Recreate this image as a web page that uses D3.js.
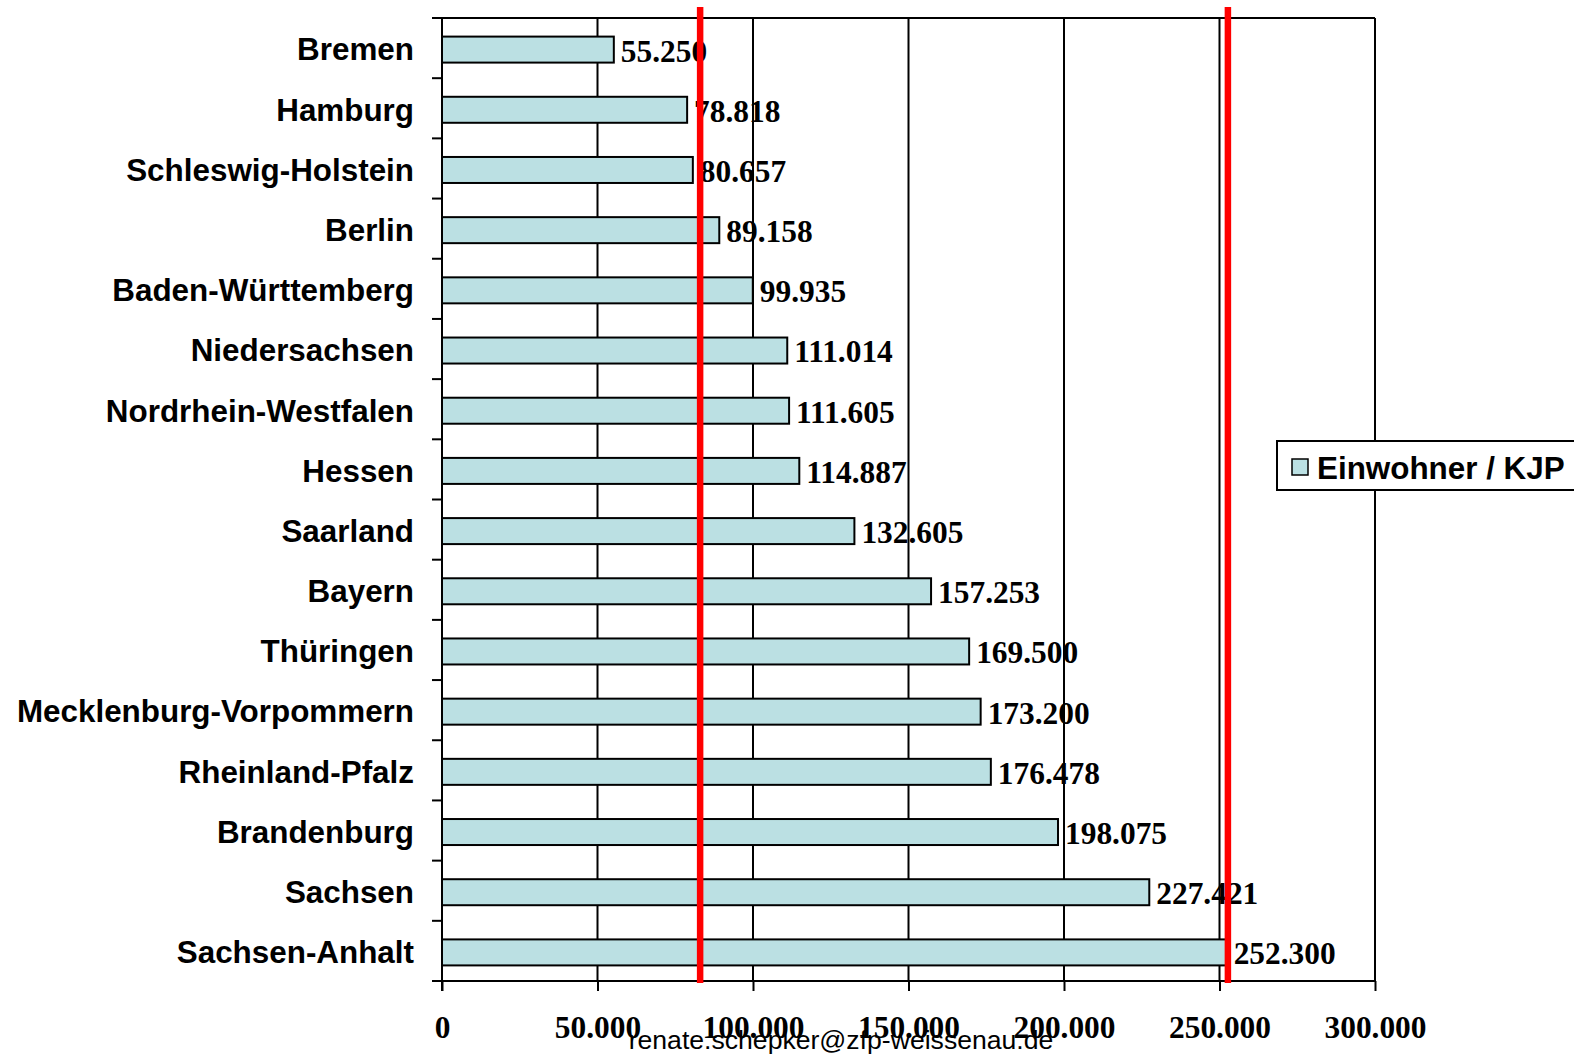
<!DOCTYPE html>
<html>
<head>
<meta charset="utf-8">
<script src="https://cdnjs.cloudflare.com/ajax/libs/d3/7.8.5/d3.min.js"></script>
<style>
  html, body { margin: 0; padding: 0; background: #fff; }
  svg { display: block; }
</style>
</head>
<body>
<svg id="chart" width="1574" height="1054"></svg>
<script>
// Einwohner pro Kinder- und Jugendpsychiatrie-Klinik, nach Bundesland
const categories = [
  "Bremen", "Hamburg", "Schleswig-Holstein", "Berlin", "Baden-Württemberg",
  "Niedersachsen", "Nordrhein-Westfalen", "Hessen", "Saarland", "Bayern",
  "Thüringen", "Mecklenburg-Vorpommern", "Rheinland-Pfalz", "Brandenburg",
  "Sachsen", "Sachsen-Anhalt"
];
const values = [
  55250, 78818, 80657, 89158, 99935, 111014, 111605, 114887,
  132605, 157253, 169500, 173200, 176478, 198075, 227421, 252300
];
const xTicks = [0, 50000, 100000, 150000, 200000, 250000, 300000];
const refLines = [83000, 252700];
const seriesName = "Einwohner / KJP";
const footer = "renate.schepker@zfp-weissenau.de";

const de = d3.formatLocale({ decimal: ",", thousands: ".", grouping: [3], currency: ["", " €"] });
const fmt = de.format(",d");

const svg = d3.select("#chart");
const plotLeft = 442, plotRight = 1375, plotTop = 18, plotBottom = 981;

const x = d3.scaleLinear().domain([0, 300000]).range([plotLeft, plotRight]);
const y = d3.scaleBand().domain(categories).range([plotTop, plotBottom]).paddingInner(0).paddingOuter(0);
const barH = 26;
const barShift = 1.5;

const serif = "'Liberation Serif', 'Times New Roman', serif";
const sans = "'Liberation Sans', Arial, sans-serif";
const bigFont = 31.4;

// vertical gridlines
svg.append("g").selectAll("line").data(xTicks).join("line")
  .attr("x1", d => x(d)).attr("x2", d => x(d))
  .attr("y1", plotTop).attr("y2", plotBottom)
  .attr("stroke", "#000").attr("stroke-width", 2);

// frame top
svg.append("line").attr("x1", plotLeft).attr("x2", plotRight).attr("y1", plotTop).attr("y2", plotTop)
  .attr("stroke", "#000").attr("stroke-width", 2);

// bottom axis
const xAxis = d3.axisBottom(x).tickValues(xTicks).tickSize(10).tickFormat(d => fmt(d));
const gx = svg.append("g").attr("transform", `translate(0,${plotBottom})`).call(xAxis);
gx.select(".domain").attr("stroke", "#000").attr("stroke-width", 2).attr("d", `M${plotLeft - 10},0H${plotRight}`);
gx.selectAll(".tick line").attr("stroke", "#000").attr("stroke-width", 2);
gx.selectAll(".tick text")
  .attr("y", 57).attr("dy", 0)
  .attr("font-family", serif).attr("font-weight", "bold").attr("font-size", bigFont).attr("fill", "#000");

// left axis with ticks at band boundaries
const boundaries = d3.range(categories.length + 1).map(i => plotTop + i * y.step());
svg.append("line").attr("x1", plotLeft).attr("x2", plotLeft).attr("y1", plotTop).attr("y2", plotBottom + 10)
  .attr("stroke", "#000").attr("stroke-width", 2);
svg.append("g").selectAll("line").data(boundaries).join("line")
  .attr("x1", plotLeft - 10).attr("x2", plotLeft).attr("y1", d => d).attr("y2", d => d)
  .attr("stroke", "#000").attr("stroke-width", 2);

// category labels
svg.append("g").selectAll("text").data(categories).join("text")
  .attr("x", 414).attr("y", d => y(d) + y.bandwidth() / 2 + 1)
  .attr("dy", "0.36em").attr("text-anchor", "end")
  .attr("font-family", sans).attr("font-weight", "bold").attr("font-size", bigFont).attr("fill", "#000")
  .text(d => d);

// bars
svg.append("g").selectAll("rect").data(values).join("rect")
  .attr("x", x(0)).attr("y", (d, i) => y(categories[i]) + (y.bandwidth() - barH) / 2 + barShift)
  .attr("width", d => x(d) - x(0)).attr("height", barH)
  .attr("fill", "#bbe0e3").attr("stroke", "#000").attr("stroke-width", 2);

// value labels
svg.append("g").selectAll("text").data(values).join("text")
  .attr("x", d => x(d) + 7).attr("y", (d, i) => y(categories[i]) + y.bandwidth() / 2 + 1.5)
  .attr("dy", "0.38em")
  .attr("font-family", serif).attr("font-weight", "bold").attr("font-size", bigFont).attr("fill", "#000")
  .text(d => fmt(d));

// red reference lines
svg.append("g").selectAll("line").data(refLines).join("line")
  .attr("x1", d => x(d)).attr("x2", d => x(d))
  .attr("y1", 7).attr("y2", plotBottom + 2)
  .attr("stroke", "#ff0000").attr("stroke-width", 6.5);

// legend
const lg = svg.append("g");
lg.append("rect").attr("x", 1277).attr("y", 441).attr("width", 310).attr("height", 49)
  .attr("fill", "#fff").attr("stroke", "#000").attr("stroke-width", 2);
lg.append("rect").attr("x", 1292).attr("y", 459).attr("width", 16).attr("height", 16)
  .attr("fill", "#bbe0e3").attr("stroke", "#000").attr("stroke-width", 1.5);
lg.append("text").attr("x", 1317).attr("y", 468).attr("dy", "0.36em")
  .attr("font-family", sans).attr("font-weight", "bold").attr("font-size", bigFont).attr("fill", "#000")
  .text(seriesName);

// footer
svg.append("text").attr("x", 841).attr("y", 1049).attr("text-anchor", "middle")
  .attr("font-family", sans).attr("font-size", 26.6).attr("fill", "#000")
  .text(footer);
</script>
</body>
</html>
